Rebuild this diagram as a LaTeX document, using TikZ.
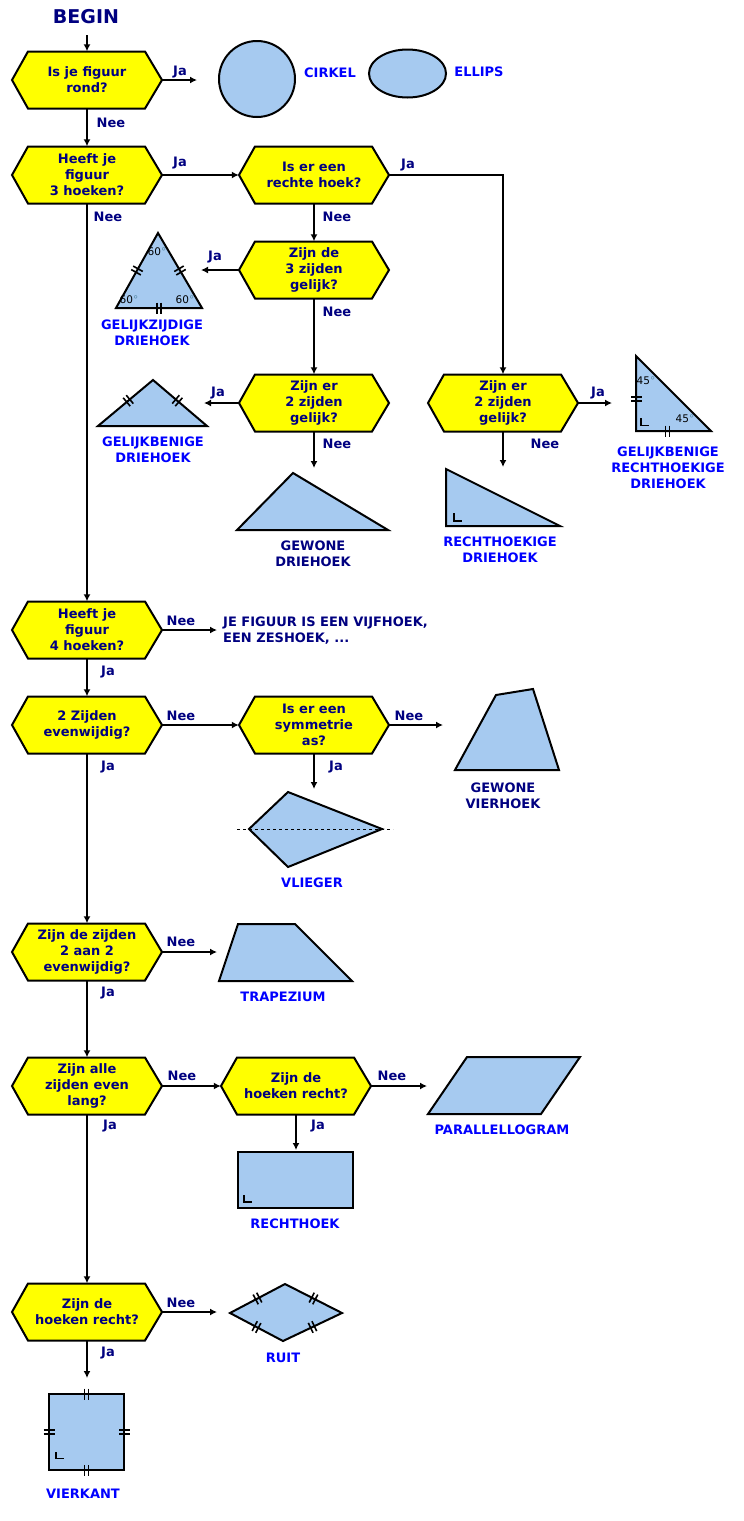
\documentclass[tikz,border=0pt]{standalone}
\usepackage{fontspec}
\setmainfont{DejaVu Sans}
\usetikzlibrary{arrows.meta,shapes.geometric,decorations.markings}

\definecolor{vraaggeel}{RGB}{255,255,0}
\definecolor{vormblauw}{RGB}{166,202,240}
\definecolor{donkerblauw}{RGB}{0,0,128}
\definecolor{helderblauw}{RGB}{0,0,255}
\definecolor{graadblauw}{RGB}{90,140,170}

\tikzset{
  vraagvorm/.style={draw=black, fill=vraaggeel, line width=2pt},
  vraag/.style={minimum width=150pt, minimum height=57pt, inner sep=0pt, align=center,
    text=donkerblauw, font=\bfseries\fontsize{13}{16}\selectfont},
  antw/.style={inner sep=0pt, text=donkerblauw, font=\bfseries\fontsize{13}{15}\selectfont},
  naam/.style={inner sep=0pt, align=center, text=helderblauw, font=\bfseries\fontsize{13}{16}\selectfont},
  vorm/.style={draw=black, fill=vormblauw, line width=2pt},
  pijl/.style={-{Latex[length=7pt,width=7pt]}, line width=2pt},
  hoekje/.style={line width=1.8pt},
  graad/.style={inner sep=0pt, font=\fontsize{10.5}{12}\selectfont},
  dubbel/.style={decorate, decoration={markings, mark=at position #1 with
    {\draw[line width=1.6pt] (-2,-5.5) -- (-2,5.5) (2,-5.5) -- (2,5.5);}}},
  dubbel/.default=0.5
}

% zeshoek met vraag erin
\newcommand{\vraag}[3]{%
  \draw[vraagvorm, shift={(#2)}] (-75,0) -- (-59,-28.5) -- (58,-28.5) -- (75,0)
    -- (58,28.5) -- (-59,28.5) -- cycle;
  \node[vraag] (#1) at (#2) {#3};
}

\begin{document}
\begin{tikzpicture}[x=1pt, y=-1pt]
    \useasboundingbox (0,0) rectangle (744,1521);

    %   Vragen
    \node[antw, font=\bfseries\fontsize{19}{22}\selectfont] (begin) at (86,17) {BEGIN};
    \vraag{rond}{87,80}{Is je figuur\\rond?}
    \vraag{drie}{87,175}{Heeft je\\figuur\\3 hoeken?}
    \vraag{recht}{314,175}{Is er een\\rechte hoek?}
    \vraag{drie-gelijk}{314,270}{Zijn de\\3 zijden\\gelijk?}
    \vraag{twee-gelijk}{314,403}{Zijn er\\2 zijden\\gelijk?}
    \vraag{twee-gelijk-r}{503,403}{Zijn er\\2 zijden\\gelijk?}
    \vraag{vier}{87,630}{Heeft je\\figuur\\4 hoeken?}
    \vraag{evenw}{87,725}{2 Zijden\\evenwijdig?}
    \vraag{symm}{314,725}{Is er een\\symmetrie\\as?}
    \vraag{paren}{87,952}{Zijn de zijden\\2 aan 2\\evenwijdig?}
    \vraag{even-lang}{87,1086}{Zijn alle\\zijden even\\lang?}
    \vraag{hoeken-a}{296,1086}{Zijn de\\hoeken recht?}
    \vraag{hoeken-b}{87,1312}{Zijn de\\hoeken recht?}

    %   Vrije uiteinden van de pijlen
    \coordinate (start) at (87,35);
    \coordinate (p-cirkel) at (197,80);
    \coordinate (p-gz) at (201,270);
    \coordinate (p-gb) at (204,403);
    \coordinate (p-gewoon) at (314,468);
    \coordinate (p-grh) at (612,403);
    \coordinate (p-rh) at (503,467);
    \coordinate (p-veel) at (217,630);
    \coordinate (p-vierhoek) at (443,725);
    \coordinate (p-vlieger) at (314,789);
    \coordinate (p-trapezium) at (217,952);
    \coordinate (p-parallel) at (427,1086);
    \coordinate (p-rechthoek) at (296,1150);
    \coordinate (p-ruit) at (217,1312);
    \coordinate (p-vierkant) at (87,1378);

    %   Pijlen
    \draw[pijl] (start) -- (rond.north);
    \draw[pijl] (rond.east) -- (p-cirkel);
    \draw[pijl] (rond.south) -- (drie.north);
    \draw[pijl] (drie.east) -- (recht.west);
    \draw[pijl] (drie.south) -- (vier.north);
    \draw[pijl] (recht.south) -- (drie-gelijk.north);
    \draw[pijl] (recht.east) -| (twee-gelijk-r.north);
    \draw[pijl] (drie-gelijk.west) -- (p-gz);
    \draw[pijl] (drie-gelijk.south) -- (twee-gelijk.north);
    \draw[pijl] (twee-gelijk.west) -- (p-gb);
    \draw[pijl] (twee-gelijk.south) -- (p-gewoon);
    \draw[pijl] (twee-gelijk-r.east) -- (p-grh);
    \draw[pijl] (twee-gelijk-r.south) -- (p-rh);
    \draw[pijl] (vier.east) -- (p-veel);
    \draw[pijl] (vier.south) -- (evenw.north);
    \draw[pijl] (evenw.east) -- (symm.west);
    \draw[pijl] (symm.east) -- (p-vierhoek);
    \draw[pijl] (symm.south) -- (p-vlieger);
    \draw[pijl] (evenw.south) -- (paren.north);
    \draw[pijl] (paren.east) -- (p-trapezium);
    \draw[pijl] (paren.south) -- (even-lang.north);
    \draw[pijl] (even-lang.east) -- (hoeken-a.west);
    \draw[pijl] (hoeken-a.east) -- (p-parallel);
    \draw[pijl] (hoeken-a.south) -- (p-rechthoek);
    \draw[pijl] (even-lang.south) -- (hoeken-b.north);
    \draw[pijl] (hoeken-b.east) -- (p-ruit);
    \draw[pijl] (hoeken-b.south) -- (p-vierkant);

    %   Ja / Nee
    \node[antw] (ja1) at (180,72) {Ja};
    \node[antw] (nee1) at (111,123) {Nee};
    \node[antw] (ja2) at (180,163) {Ja};
    \node[antw] (nee2) at (108,217) {Nee};
    \node[antw] (nee3) at (337,217) {Nee};
    \node[antw] (ja3) at (408,165) {Ja};
    \node[antw] (ja4) at (215,257) {Ja};
    \node[antw] (nee4) at (337,312) {Nee};
    \node[antw] (ja5) at (218,393) {Ja};
    \node[antw] (nee5) at (337,444) {Nee};
    \node[antw] (ja6) at (598,393) {Ja};
    \node[antw] (nee6) at (545,444) {Nee};
    \node[antw] (nee7) at (181,621) {Nee};
    \node[antw] (ja7) at (108,672) {Ja};
    \node[antw] (nee8) at (181,716) {Nee};
    \node[antw] (nee9) at (409,716) {Nee};
    \node[antw] (ja9) at (336,767) {Ja};
    \node[antw] (ja8) at (108,767) {Ja};
    \node[antw] (nee10) at (181,942) {Nee};
    \node[antw] (ja10) at (108,993) {Ja};
    \node[antw] (nee11) at (182,1076) {Nee};
    \node[antw] (nee12) at (392,1076) {Nee};
    \node[antw] (ja12) at (318,1126) {Ja};
    \node[antw] (ja11) at (110,1126) {Ja};
    \node[antw] (nee13) at (181,1303) {Nee};
    \node[antw] (ja13) at (108,1353) {Ja};

    %   Cirkel en ellips
    \node[vorm, circle, minimum size=76pt, inner sep=0pt] (cirkel) at (257,79) {};
    \node[naam] (t-cirkel) at (330,73) {CIRKEL};
    \node[vorm, ellipse, minimum width=77pt, minimum height=48pt, inner sep=0pt] (ellips) at (407.5,73.5) {};
    \node[naam] (t-ellips) at (479,72) {ELLIPS};

    %   Gelijkzijdige driehoek
    \draw[vorm] (158,233) -- (202,308) -- (116,308) -- cycle;
    \path[dubbel] (116,308) -- (158,233);
    \path[dubbel] (158,233) -- (202,308);
    \path[dubbel] (116,308) -- (202,308);
    \node[graad] (g1) at (157,252) {60\textcolor{graadblauw}{°}};
    \node[graad] (g2) at (129,300) {60\textcolor{graadblauw}{°}};
    \node[graad] (g3) at (185,300) {60\textcolor{graadblauw}{°}};
    \node[naam] (t-gz) at (152,333) {GELIJKZIJDIGE\\DRIEHOEK};

    %   Gelijkbenige driehoek
    \draw[vorm] (153,380) -- (207,426) -- (98,426) -- cycle;
    \path[dubbel=0.55] (98,426) -- (153,380);
    \path[dubbel=0.45] (153,380) -- (207,426);
    \node[naam] (t-gb) at (153,449.5) {GELIJKBENIGE\\DRIEHOEK};

    %   Gewone driehoek
    \draw[vorm] (293,473) -- (388,530) -- (237,530) -- cycle;
    \node[antw, align=center, font=\bfseries\fontsize{13}{16}\selectfont] (t-gewoon) at (313,554) {GEWONE\\DRIEHOEK};

    %   Gelijkbenige rechthoekige driehoek
    \draw[vorm] (636,356) -- (711,431) -- (636,431) -- cycle;
    \path[dubbel=0.57] (636,356) -- (636,431);
    \path[dubbel=0.42] (636,431) -- (711,431);
    \draw[hoekje] (641,418) -- (641,425.5) -- (649,425.5);
    \node[graad] (g4) at (646,381) {45\textcolor{graadblauw}{°}};
    \node[graad] (g5) at (685,419) {45\textcolor{graadblauw}{°}};
    \node[naam] (t-grh) at (668,468) {GELIJKBENIGE\\RECHTHOEKIGE\\DRIEHOEK};

    %   Rechthoekige driehoek
    \draw[vorm] (446,469) -- (560,526) -- (446,526) -- cycle;
    \draw[hoekje] (454,513) -- (454,521) -- (462,521);
    \node[naam] (t-rh) at (500,550) {RECHTHOEKIGE\\DRIEHOEK};

    %   Meer dan vier hoeken
    \node[antw, anchor=west, align=left, font=\bfseries\fontsize{13}{16}\selectfont] (t-veel) at (223,631) {JE FIGUUR IS EEN VIJFHOEK,\\EEN ZESHOEK, ...};

    %   Gewone vierhoek
    \draw[vorm] (455,770) -- (496,695) -- (533,689) -- (559,770) -- cycle;
    \node[antw, align=center, font=\bfseries\fontsize{13}{16}\selectfont] (t-vierhoek) at (503,795.5) {GEWONE\\VIERHOEK};

    %   Vlieger
    \draw[vorm] (249,829) -- (288,792) -- (382,829) -- (288,867) -- cycle;
    \draw[dashed, line width=0.8pt] (237,829) -- (393,829);
    \node[naam] (t-vlieger) at (312,883) {VLIEGER};

    %   Trapezium
    \draw[vorm] (238,924) -- (295,924) -- (352,981) -- (219,981) -- cycle;
    \node[naam] (t-trapezium) at (283,997) {TRAPEZIUM};

    %   Parallellogram en rechthoek
    \draw[vorm] (467,1057) -- (580,1057) -- (541,1114) -- (428,1114) -- cycle;
    \node[naam] (t-parallel) at (502,1130) {PARALLELLOGRAM};
    \draw[vorm] (238,1152) rectangle (353,1208);
    \draw[hoekje] (244,1195) -- (244,1202) -- (252,1202);
    \node[naam] (t-rechthoek) at (295,1224) {RECHTHOEK};

    %   Ruit
    \draw[vorm] (230,1313) -- (285,1284) -- (342,1313) -- (283,1341) -- cycle;
    \path[dubbel] (230,1313) -- (285,1284);
    \path[dubbel] (285,1284) -- (342,1313);
    \path[dubbel] (342,1313) -- (283,1341);
    \path[dubbel] (283,1341) -- (230,1313);
    \node[naam] (t-ruit) at (283,1358) {RUIT};

    %   Vierkant
    \draw[vorm] (49,1394) rectangle (124,1470);
    \path[dubbel] (49,1394) -- (124,1394);
    \path[dubbel] (124,1394) -- (124,1470);
    \path[dubbel] (124,1470) -- (49,1470);
    \path[dubbel] (49,1470) -- (49,1394);
    \draw[hoekje] (56,1452) -- (56,1458.5) -- (64,1458.5);
    \node[naam] (t-vierkant) at (83,1494) {VIERKANT};
\end{tikzpicture}
\end{document}
